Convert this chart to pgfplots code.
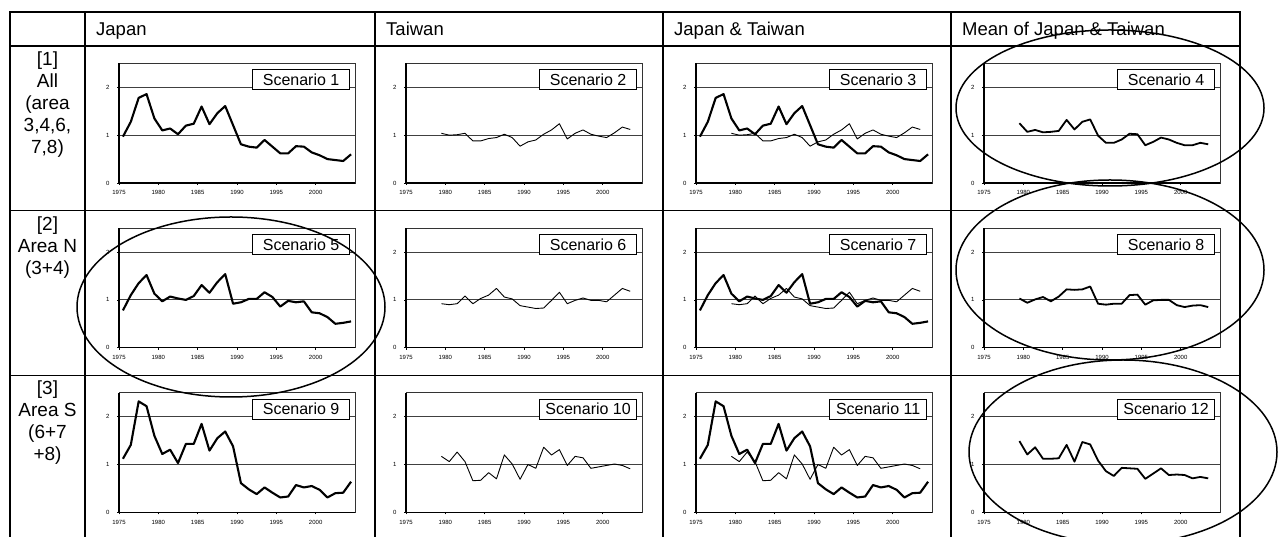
\documentclass[border=0pt]{standalone}
\usepackage{pgfplots}
\usepackage{pgfplotstable}
\pgfplotsset{compat=1.18}
\usepackage{fontspec}
\setmainfont{Liberation Sans}

\pgfplotstableread{
year v
1975 0.97
1976 1.28
1977 1.78
1978 1.86
1979 1.35
1980 1.10
1981 1.14
1982 1.02
1983 1.20
1984 1.24
1985 1.60
1986 1.23
1987 1.46
1988 1.61
1989 1.21
1990 0.81
1991 0.76
1992 0.74
1993 0.90
1994 0.76
1995 0.62
1996 0.62
1997 0.77
1998 0.76
1999 0.64
2000 0.58
2001 0.50
2002 0.48
2003 0.46
2004 0.60
}\japanAll

\pgfplotstableread{
year v
1979 1.04
1980 1.00
1981 1.01
1982 1.04
1983 0.88
1984 0.88
1985 0.93
1986 0.95
1987 1.02
1988 0.95
1989 0.77
1990 0.86
1991 0.90
1992 1.02
1993 1.11
1994 1.24
1995 0.92
1996 1.04
1997 1.11
1998 1.02
1999 0.98
2000 0.95
2001 1.05
2002 1.17
2003 1.12
}\taiwanAll

\pgfplotstableread{
year v
1979 1.25
1980 1.07
1981 1.11
1982 1.06
1983 1.07
1984 1.09
1985 1.32
1986 1.12
1987 1.28
1988 1.33
1989 0.99
1990 0.84
1991 0.84
1992 0.91
1993 1.03
1994 1.02
1995 0.79
1996 0.86
1997 0.95
1998 0.91
1999 0.84
2000 0.79
2001 0.79
2002 0.84
2003 0.81
}\meanAll

\pgfplotstableread{
year v
1975 0.78
1976 1.10
1977 1.35
1978 1.52
1979 1.13
1980 0.97
1981 1.07
1982 1.03
1983 1.00
1984 1.08
1985 1.31
1986 1.15
1987 1.37
1988 1.54
1989 0.92
1990 0.95
1991 1.02
1992 1.02
1993 1.16
1994 1.06
1995 0.86
1996 0.98
1997 0.95
1998 0.97
1999 0.74
2000 0.72
2001 0.64
2002 0.50
2003 0.52
2004 0.55
}\japanN

\pgfplotstableread{
year v
1979 0.92
1980 0.90
1981 0.92
1982 1.08
1983 0.92
1984 1.03
1985 1.10
1986 1.24
1987 1.06
1988 1.02
1989 0.88
1990 0.85
1991 0.82
1992 0.83
1993 0.99
1994 1.16
1995 0.92
1996 0.99
1997 1.04
1998 0.99
1999 0.99
2000 0.96
2001 1.10
2002 1.24
2003 1.18
}\taiwanN

\pgfplotstableread{
year v
1979 1.03
1980 0.94
1981 1.01
1982 1.06
1983 0.97
1984 1.07
1985 1.22
1986 1.21
1987 1.22
1988 1.28
1989 0.92
1990 0.90
1991 0.92
1992 0.92
1993 1.10
1994 1.11
1995 0.90
1996 0.99
1997 1.00
1998 1.00
1999 0.89
2000 0.85
2001 0.88
2002 0.89
2003 0.85
}\meanN

\pgfplotstableread{
year v
1975 1.12
1976 1.41
1977 2.32
1978 2.22
1979 1.60
1980 1.22
1981 1.31
1982 1.03
1983 1.43
1984 1.43
1985 1.85
1986 1.29
1987 1.55
1988 1.69
1989 1.38
1990 0.61
1991 0.48
1992 0.38
1993 0.52
1994 0.41
1995 0.31
1996 0.33
1997 0.57
1998 0.52
1999 0.55
2000 0.47
2001 0.31
2002 0.40
2003 0.41
2004 0.64
}\japanS

\pgfplotstableread{
year v
1979 1.17
1980 1.06
1981 1.26
1982 1.06
1983 0.66
1984 0.67
1985 0.83
1986 0.70
1987 1.20
1988 1.01
1989 0.69
1990 1.00
1991 0.92
1992 1.36
1993 1.20
1994 1.31
1995 0.98
1996 1.17
1997 1.14
1998 0.92
1999 0.95
2000 0.98
2001 1.01
2002 0.98
2003 0.91
}\taiwanS

\pgfplotstableread{
year v
1979 1.49
1980 1.21
1981 1.36
1982 1.12
1983 1.12
1984 1.13
1985 1.41
1986 1.06
1987 1.47
1988 1.42
1989 1.08
1990 0.86
1991 0.76
1992 0.93
1993 0.92
1994 0.91
1995 0.70
1996 0.81
1997 0.92
1998 0.78
1999 0.79
2000 0.78
2001 0.71
2002 0.74
2003 0.71
}\meanS

\pgfplotsset{
  panel/.style={
    scale only axis, width=236pt, height=119.5pt,
    anchor=south west,
    xmin=1975, xmax=2005, ymin=0, ymax=2.5,
    xtick={1975,1980,1985,1990,1995,2000},
    ytick={0,1,2},
    ymajorgrids, grid style={black!75, line width=0.8pt},
    axis line style={black!80, line width=0.7pt},
    tick style={black, line width=0.5pt},
    major tick length=2pt, tick align=outside,
    xtick pos=bottom, ytick pos=left,
    ticklabel style={font=\fontsize{6}{6}\selectfont},
    /pgf/number format/1000 sep={},
    /pgf/number format/assume math mode=true,
    yticklabel style={xshift=-4pt},
    xticklabel style={yshift=-2pt},
    after end axis/.code={
      \draw[black, line width=1.3pt] (rel axis cs:0,1) -- (rel axis cs:0,0) -- (rel axis cs:1,0);
    },
  },
  jp/.style={black, line width=2.1pt, line join=round, mark=none},
  tw/.style={black, line width=0.9pt, line join=round, mark=none},
  mn/.style={black, line width=1.8pt, line join=round, mark=none},
}
\tikzset{
  scen/.style={draw, fill=white, line width=0.8pt, anchor=north east,
    xshift=-5pt, yshift=-6pt, font=\fontsize{16}{16}\selectfont,
    minimum width=97pt, minimum height=20pt, inner xsep=3pt, inner ysep=0pt},
  hdr/.style={anchor=base west, font=\fontsize{18.5}{18.5}\selectfont, inner sep=0pt},
  rl/.style={anchor=base, font=\fontsize{19}{19}\selectfont, inner sep=0pt},
}

\begin{document}
\begin{tikzpicture}
\useasboundingbox (0pt,0pt) rectangle (1279pt,537pt);

% table grid
\begin{scope}[line width=1.2pt, line cap=rect]
\foreach \yy in {12,46,210.7,375.3} \draw (10pt,{(537-\yy)*1pt}) -- (1240pt,{(537-\yy)*1pt});
\foreach \xx in {10,85,375,663,951,1240} \draw ({\xx*1pt},525pt) -- ({\xx*1pt},0pt);
\end{scope}

% headers
\node[hdr] at (96pt,501.5pt) {Japan};
\node[hdr] at (386pt,501.5pt) {Taiwan};
\node[hdr] at (674pt,501.5pt) {Japan \& Taiwan};
\node[hdr] at (962pt,501.5pt) {Mean of Japan \& Taiwan};

% row labels (baselines)
\node[rl] at (47.5pt,471.5pt) {[1]};
\node[rl] at (47.5pt,449.5pt) {All};
\node[rl] at (47.5pt,427.5pt) {(area};
\node[rl] at (47.5pt,405.5pt) {3,4,6,};
\node[rl] at (47.5pt,383.5pt) {7,8)};
\node[rl] at (47.5pt,306.8pt) {[2]};
\node[rl] at (47.5pt,284.8pt) {Area N};
\node[rl] at (47.5pt,262.8pt) {(3+4)};
\node[rl] at (47.5pt,142.2pt) {[3]};
\node[rl] at (47.5pt,120.2pt) {Area S};
\node[rl] at (47.5pt,98.2pt) {(6+7};
\node[rl] at (47.5pt,76.2pt) {+8)};

% ---- row 1
\begin{axis}[panel, at={(119pt,354pt)}]
\addplot[jp] table[x expr=\thisrow{year}+0.5, y=v] {\japanAll};
\node[scen] at (rel axis cs:1,1) {Scenario 1};
\end{axis}
\begin{axis}[panel, at={(406pt,354pt)}]
\addplot[tw] table[x expr=\thisrow{year}+0.5, y=v] {\taiwanAll};
\node[scen] at (rel axis cs:1,1) {Scenario 2};
\end{axis}
\begin{axis}[panel, at={(696pt,354pt)}]
\addplot[tw] table[x expr=\thisrow{year}+0.5, y=v] {\taiwanAll};
\addplot[jp] table[x expr=\thisrow{year}+0.5, y=v] {\japanAll};
\node[scen] at (rel axis cs:1,1) {Scenario 3};
\end{axis}
\begin{axis}[panel, at={(984pt,354pt)}]
\addplot[mn] table[x expr=\thisrow{year}+0.5, y=v] {\meanAll};
\node[scen] at (rel axis cs:1,1) {Scenario 4};
\end{axis}

% ---- row 2
\begin{axis}[panel, at={(119pt,189.3pt)}]
\addplot[jp] table[x expr=\thisrow{year}+0.5, y=v] {\japanN};
\node[scen] at (rel axis cs:1,1) {Scenario 5};
\end{axis}
\begin{axis}[panel, at={(406pt,189.3pt)}]
\addplot[tw] table[x expr=\thisrow{year}+0.5, y=v] {\taiwanN};
\node[scen] at (rel axis cs:1,1) {Scenario 6};
\end{axis}
\begin{axis}[panel, at={(696pt,189.3pt)}]
\addplot[tw] table[x expr=\thisrow{year}+0.5, y=v] {\taiwanN};
\addplot[jp] table[x expr=\thisrow{year}+0.5, y=v] {\japanN};
\node[scen] at (rel axis cs:1,1) {Scenario 7};
\end{axis}
\begin{axis}[panel, at={(984pt,189.3pt)}]
\addplot[mn] table[x expr=\thisrow{year}+0.5, y=v] {\meanN};
\node[scen] at (rel axis cs:1,1) {Scenario 8};
\end{axis}

% ---- row 3
\begin{axis}[panel, at={(119pt,24.7pt)}]
\addplot[jp] table[x expr=\thisrow{year}+0.5, y=v] {\japanS};
\node[scen] at (rel axis cs:1,1) {Scenario 9};
\end{axis}
\begin{axis}[panel, at={(406pt,24.7pt)}]
\addplot[tw] table[x expr=\thisrow{year}+0.5, y=v] {\taiwanS};
\node[scen] at (rel axis cs:1,1) {Scenario 10};
\end{axis}
\begin{axis}[panel, at={(696pt,24.7pt)}]
\addplot[tw] table[x expr=\thisrow{year}+0.5, y=v] {\taiwanS};
\addplot[jp] table[x expr=\thisrow{year}+0.5, y=v] {\japanS};
\node[scen] at (rel axis cs:1,1) {Scenario 11};
\end{axis}
\begin{axis}[panel, at={(984pt,24.7pt)}]
\addplot[mn] table[x expr=\thisrow{year}+0.5, y=v] {\meanS};
\node[scen] at (rel axis cs:1,1) {Scenario 12};
\end{axis}

% ellipses
\begin{scope}
\clip (0pt,0pt) rectangle (1279pt,537pt);
\draw[line width=1.5pt] (1110pt,429pt) ellipse [x radius=154pt, y radius=78pt];
\draw[line width=1.5pt] (1110pt,267pt) ellipse [x radius=154pt, y radius=90pt];
\draw[line width=1.5pt] (1123pt,85pt) ellipse [x radius=154pt, y radius=92pt];
\draw[line width=1.5pt] (231pt,230pt) ellipse [x radius=154pt, y radius=90pt];
\end{scope}
\end{tikzpicture}
\end{document}
